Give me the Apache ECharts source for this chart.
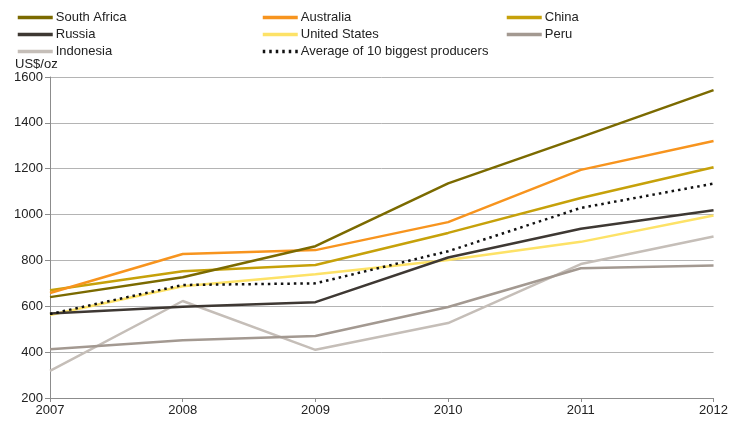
<!DOCTYPE html>
<html>
<head>
<meta charset="utf-8">
<script src="https://cdn.jsdelivr.net/npm/echarts@6/dist/echarts.min.js"></script>
<style>
  html, body { margin: 0; padding: 0; background: #fff; }
  #chart { width: 731px; height: 421px; }
</style>
</head>
<body>
<div id="chart"></div>
<script>
  // 年份
  var years = ['2007', '2008', '2009', '2010', '2011', '2012'];
  // 各国数据 (US$/oz)
  var southAfrica = [640, 727, 862, 1136, 1338, 1543];
  var australia = [658, 828, 845, 967, 1195, 1321];
  var china = [670, 753, 780, 920, 1072, 1206];
  var russia = [568, 598, 618, 813, 938, 1019];
  var unitedStates = [562, 687, 740, 802, 881, 996];
  var peru = [413, 452, 470, 597, 766, 778];
  var indonesia = [318, 623, 410, 527, 784, 904];
  var average10 = [566, 693, 700, 840, 1029, 1135];
  var yTicks = [200, 1600, 200]; // min, max, interval

  var font = '"Liberation Sans", Arial, sans-serif';

  function line (name, data, color, type) {
    return {
      name: name,
      type: 'line',
      data: data,
      symbol: 'none',
      smooth: false,
      lineStyle: { color: color, width: 2.5, type: type || 'solid' },
      itemStyle: { color: color }
    };
  }

  function legendCol (left, names) {
    return {
      orient: 'vertical',
      left: left,
      top: 11,
      itemWidth: 35,
      itemHeight: 13,
      itemGap: 4,
      padding: 0,
      itemStyle: { opacity: 0 }, // 只显示线，不显示圆点
      lineStyle: { width: 3.5 },
      textStyle: { color: '#222', fontFamily: font, fontSize: 13, padding: [0, 0, 0, -2] },
      data: names
    };
  }

  var option = {
    backgroundColor: '#fff',
    animation: false,
    legend: [
      legendCol(16, ['South Africa', 'Russia', 'Indonesia']),
      legendCol(261, ['Australia', 'United States', 'Average of 10 biggest producers']),
      legendCol(505, ['China', 'Peru'])
    ],
    grid: { left: 50, right: 17, top: 77, bottom: 23 },
    xAxis: {
      type: 'category',
      data: years,
      boundaryGap: false,
      axisLine: { lineStyle: { color: '#8c8c8c', width: 1 } },
      axisTick: { show: true, length: 4, lineStyle: { color: '#8c8c8c' } },
      axisLabel: { color: '#222', fontFamily: font, fontSize: 13, margin: 6 },
      splitLine: { show: false }
    },
    yAxis: {
      type: 'value',
      min: yTicks[0],
      max: yTicks[1],
      interval: yTicks[2],
      name: 'US$/oz',
      nameLocation: 'end',
      nameGap: 6,
      nameTextStyle: { color: '#222', fontFamily: font, fontSize: 13, align: 'left', padding: [0, 0, 0, -35] },
      axisLine: { show: true, lineStyle: { color: '#8c8c8c', width: 1 } },
      axisTick: { show: true, length: 5, lineStyle: { color: '#8c8c8c' } },
      axisLabel: { color: '#222', fontFamily: font, fontSize: 13, margin: 7, formatter: function (v) { return String(v); } },
      splitLine: { show: true, lineStyle: { color: '#b4b4b4', width: 1 } }
    },
    series: [
      line('Indonesia', indonesia, '#c5beb8'),
      line('Peru', peru, '#a39991'),
      line('United States', unitedStates, '#fde267'),
      line('Russia', russia, '#3e3833'),
      line('China', china, '#c6a10a'),
      line('Australia', australia, '#f7941e'),
      line('South Africa', southAfrica, '#7b6a00'),
      line('Average of 10 biggest producers', average10, '#111', [2.5, 4])
    ]
  };

  var myChart = echarts.init(document.getElementById('chart'));
  myChart.setOption(option);
</script>
</body>
</html>
